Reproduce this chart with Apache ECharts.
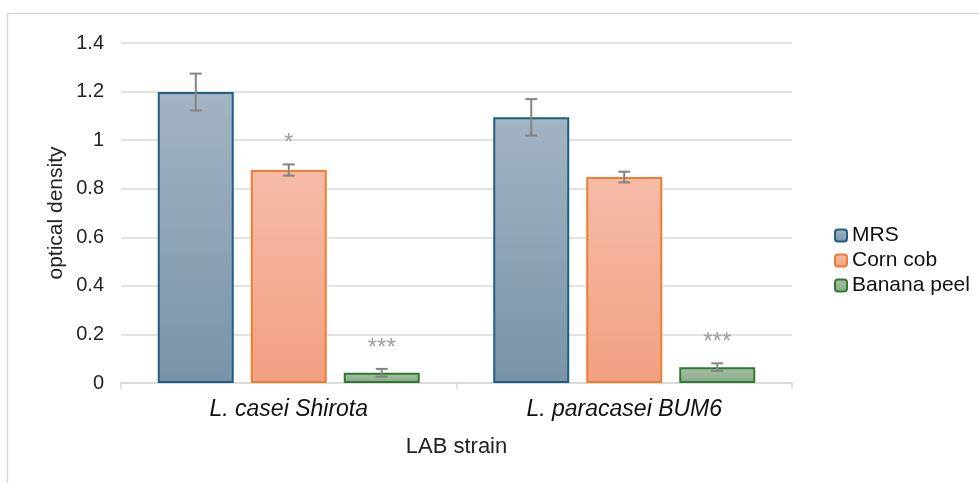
<!DOCTYPE html>
<html><head><meta charset="utf-8">
<script src="https://cdn.jsdelivr.net/npm/echarts@6/dist/echarts.min.js"></script>
<style>html,body{margin:0;padding:0;background:#fff}#c{width:979px;height:483px}</style>
</head><body><div id="c"></div>
<script>
const categories = ['L. casei Shirota', 'L. paracasei BUM6'];
const seriesNames = ['MRS', 'Corn cob', 'Banana peel'];
const mrs = [1.198, 1.094];
const cornCob = [0.877, 0.848];
const bananaPeel = [0.042, 0.065];
const mrsErr = [0.076, 0.075];
const cornCobErr = [0.023, 0.022];
const bananaPeelErr = [0.016, 0.016];
const mrsSig = ['', ''];
const cornCobSig = ['*', ''];
const bananaPeelSig = ['***', '***'];
const yTicks = [0, 0.2, 0.4, 0.6, 0.8, 1, 1.2, 1.4];

const values = [mrs, cornCob, bananaPeel];
const errs = [mrsErr, cornCobErr, bananaPeelErr];
const sigs = [mrsSig, cornCobSig, bananaPeelSig];
const fills = [['#a3b4c3', '#7893a9'], ['#f6bba8', '#f3a081'], ['#a8c1a6', '#88a888']];
const borders = ['#1f5f82', '#ed7d31', '#2e7a32'];
const BAR_W = 76, GAP = 17;
const FONT = '"Liberation Sans", Arial, sans-serif';

const chart = echarts.init(document.getElementById('c'), null, {renderer: 'canvas'});
const barSeries = seriesNames.map((n, i) => ({
  name: n, type: 'bar', data: values[i], barWidth: BAR_W, barGap: (GAP / BAR_W * 100) + '%',
  itemStyle: {
    color: {type: 'linear', x: 0, y: 0, x2: 0, y2: 1, colorStops: [{offset: 0, color: fills[i][0]}, {offset: 1, color: fills[i][1]}]},
    borderColor: borders[i], borderWidth: 2
  },
  emphasis: {disabled: true}
}));
const errSeries = seriesNames.map((n, i) => ({
  type: 'custom', z: 5, silent: true,
  data: values[i].map((v, j) => [j, v, errs[i][j]]),
  renderItem: function (params, api) {
    const j = api.value(0), v = api.value(1), e = api.value(2);
    const sig = sigs[i][j];
    const off = (i - 1) * (BAR_W + GAP);
    const top = api.coord([j, v + e]);
    const bot = api.coord([j, v - e]);
    const x = top[0] + off;
    const hw = 6;
    const st = {stroke: '#848484', lineWidth: 2};
    const children = [
      {type: 'line', shape: {x1: x, y1: top[1], x2: x, y2: bot[1]}, style: st},
      {type: 'line', shape: {x1: x - hw, y1: top[1], x2: x + hw, y2: top[1]}, style: st},
      {type: 'line', shape: {x1: x - hw, y1: bot[1], x2: x + hw, y2: bot[1]}, style: st}
    ];
    if (sig) {
      children.push({type: 'text', style: {text: sig, x: x, y: top[1] - 21, align: 'center', verticalAlign: 'middle', fill: '#a0a0a0', font: '24px ' + FONT}});
    }
    return {type: 'group', children: children};
  }
}));

chart.setOption({
  animation: false,
  backgroundColor: '#fff',
  textStyle: {fontFamily: FONT},
  graphic: [{type: 'rect', shape: {x: 7.5, y: 13.5, width: 1000, height: 500}, style: {fill: 'none', stroke: '#d9d9d9', lineWidth: 1.5}, silent: true}],
  grid: {left: 121, right: 187, top: 43, bottom: 100},
  legend: {
    orient: 'vertical', left: 829, top: 220, itemWidth: 12, itemHeight: 12, itemGap: 4,
    data: seriesNames,
    textStyle: {fontSize: 21, color: '#111', fontFamily: FONT}
  },
  xAxis: {
    type: 'category', data: categories,
    name: 'LAB strain', nameLocation: 'middle', nameGap: 53, nameMoveOverlap: false,
    nameTextStyle: {fontSize: 22, color: '#222', fontFamily: FONT},
    axisLine: {lineStyle: {color: '#d9d9d9', width: 1.5}},
    axisTick: {show: true, length: 6, lineStyle: {color: '#d9d9d9', width: 1.5}},
    axisLabel: {fontSize: 23, fontStyle: 'italic', color: '#111', margin: 15, fontFamily: FONT}
  },
  yAxis: {
    type: 'value', min: 0, max: 1.4, interval: 0.2,
    name: 'optical density', nameLocation: 'middle', nameGap: 54, nameRotate: 90, nameMoveOverlap: false,
    nameTextStyle: {fontSize: 21, color: '#222', fontFamily: FONT},
    axisLine: {show: false}, axisTick: {show: false},
    splitLine: {lineStyle: {color: '#d9d9d9', width: 1.5}},
    axisLabel: {fontSize: 20, color: '#222', margin: 17, fontFamily: FONT, formatter: v => {
      const t = yTicks.find(x => Math.abs(x - v) < 1e-9);
      return t === undefined ? '' : String(t);
    }}
  },
  series: barSeries.concat(errSeries)
});
</script></body></html>
